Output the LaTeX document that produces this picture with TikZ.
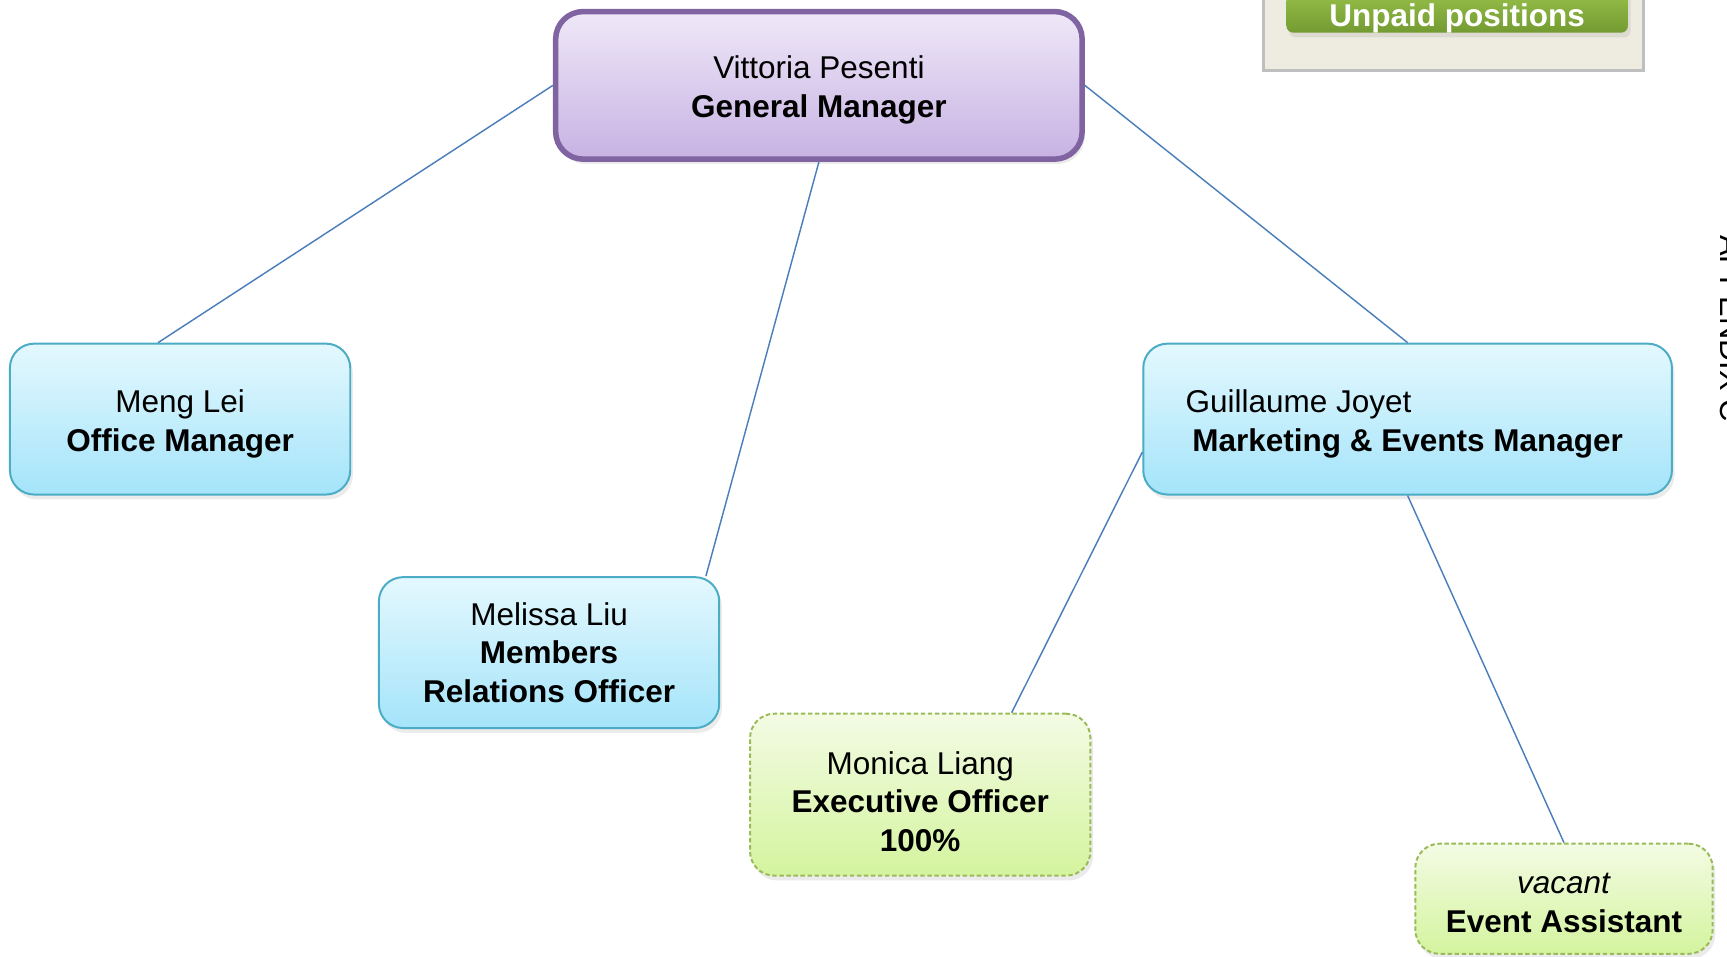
\documentclass[tikz,border=0pt]{standalone}
\usepackage{fontspec}
\setmainfont{Liberation Sans}
\usetikzlibrary{calc,shadows}
\definecolor{gmborder}{HTML}{8064A2}
\definecolor{gmtop}{HTML}{EFE8F8}
\definecolor{gmbot}{HTML}{C7B2E3}
\definecolor{cyanborder}{HTML}{4BACC6}
\definecolor{cyantop}{HTML}{E4F8FE}
\definecolor{cyanbot}{HTML}{A4E4FA}
\definecolor{grnborder}{HTML}{9BBB59}
\definecolor{grntop}{HTML}{F3FBE4}
\definecolor{grnbot}{HTML}{D4F49E}
\definecolor{legfill}{HTML}{EEECE1}
\definecolor{legborder}{HTML}{BFBFBF}
\definecolor{btntop}{HTML}{A3CB52}
\definecolor{btnbot}{HTML}{739B31}
\definecolor{conncol}{HTML}{4A7EBB}
\newcommand\txtdrop[1]{\rule{0pt}{#1}}
\begin{document}
\begin{tikzpicture}[x=0.5pt,y=-0.5pt,
  box/.style={rectangle, rounded corners=11pt, inner sep=0pt, align=center,
    font=\fontsize{14.3}{17.5}\selectfont, text=black},
  softshadow/.style={drop shadow={opacity=0.16, shadow xshift=1.2pt, shadow yshift=-2.2pt}},
  gmbox/.style={box, rounded corners=12.5pt, draw=gmborder, line width=2.5pt,
    top color=gmtop, bottom color=gmbot, softshadow},
  cyanbox/.style={box, draw=cyanborder, line width=0.9pt,
    top color=cyantop, bottom color=cyanbot, softshadow},
  grnbox/.style={box, draw=grnborder, line width=0.9pt, dash pattern=on 2pt off 1.2pt,
    top color=grntop, bottom color=grnbot, softshadow},
  conn/.style={draw=conncol, line width=0.65pt},
  legbox/.style={rectangle, draw=legborder, line width=1.5pt, fill=legfill, inner sep=0pt},
  btn/.style={rectangle, rounded corners=3pt, inner sep=0pt, top color=btntop, bottom color=btnbot,
    text=white, font=\bfseries\fontsize{14.3}{17.5}\selectfont, softshadow},
]
\useasboundingbox (0,0) rectangle (1568,868);

% legend
\node[legbox, minimum width=172.5pt, minimum height=52pt] (leg) at (1319.5,12) {};
\node[btn, minimum width=155pt, text height=22.25pt, text depth=2.75pt, anchor=south] (btn) at (1323,30) {Unpaid positions};

% appendix label (cut by the page edge)
\node[rotate=-90, anchor=base west, inner sep=0pt, font=\fontsize{14}{17}\selectfont] (app) at (1562,213) {APPENDIX C};

% nodes
\node[gmbox, minimum width=239pt, minimum height=67pt] (gm) at (743.5,77.5)
  {\txtdrop{14.3pt}Vittoria Pesenti\\\textbf{General Manager}};
\node[cyanbox, minimum width=154.5pt, minimum height=68.5pt] (ml) at (163.5,380.5)
  {\txtdrop{14.8pt}Meng Lei\\\textbf{Office Manager}};
\node[cyanbox, minimum width=154.5pt, minimum height=68.5pt] (mr) at (498.5,592.5)
  {Melissa Liu\\\textbf{Members}\\\textbf{Relations Officer}};
\node[cyanbox, align=left, minimum width=240pt, minimum height=68.5pt] (gj) at (1278,380.5)
  {\hspace*{-3pt}\txtdrop{14.8pt}Guillaume Joyet\\ \textbf{Marketing \& Events Manager}};
\node[grnbox, minimum width=154.5pt, minimum height=73.5pt] (mo) at (835.5,721.5)
  {\txtdrop{16.6pt}Monica Liang\\\textbf{Executive Officer}\\\textbf{100\%}};
\node[grnbox, minimum width=135pt, minimum height=50pt] (va) at (1420,816)
  {\txtdrop{13.3pt}\textit{vacant}\\\textbf{Event Assistant}};

% connectors
\draw[conn] (gm.west) -- ($(ml.north)+(-20,0)$);
\draw[conn] (gm.south) -- ($(mr.north east)+(-13,0)$);
\draw[conn] (gm.east) -- (gj.north);
\draw[conn] ($(gj.west)+(0,30)$) -- ($(mo.north)+(83,0)$);
\draw[conn] (gj.south) -- (va.north);
\end{tikzpicture}
\end{document}
